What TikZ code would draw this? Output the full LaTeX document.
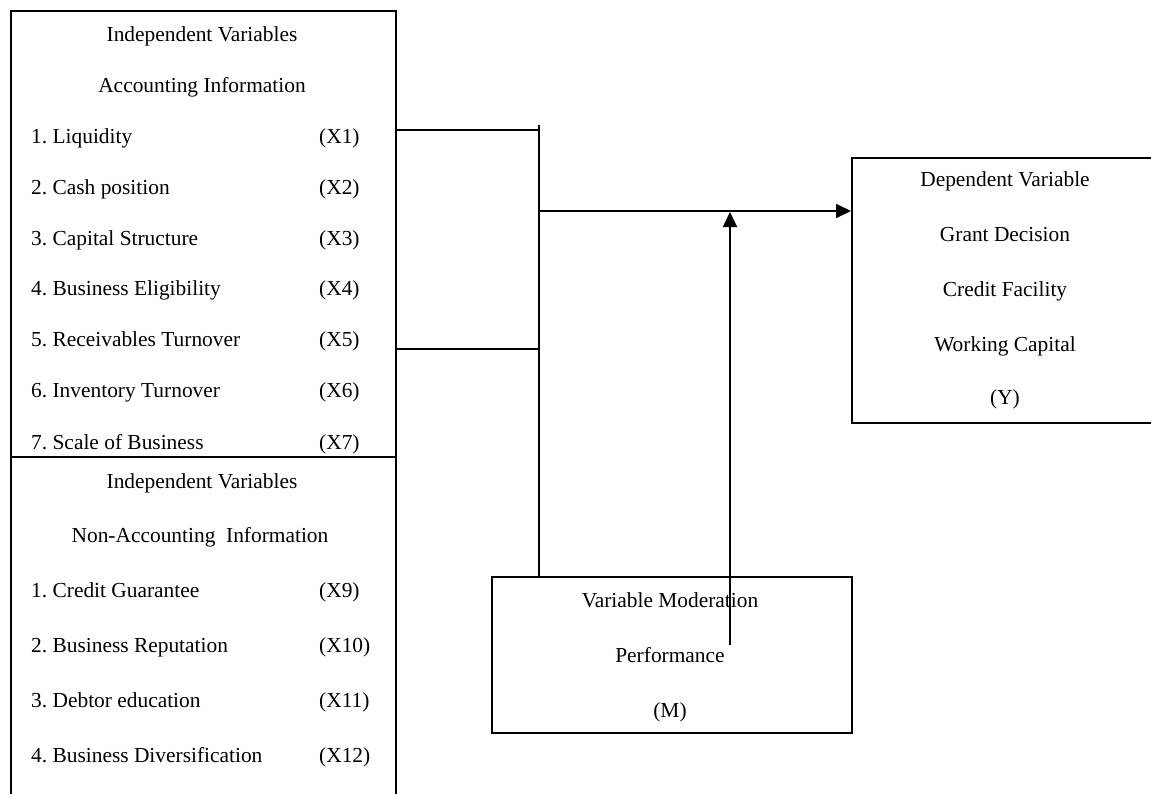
\documentclass[tikz,border=0pt]{standalone}
\usepackage{fontspec}
\setmainfont{Liberation Serif}
\usetikzlibrary{arrows.meta}
\begin{document}
\begin{tikzpicture}[x=1pt,y=-1pt,
  box/.style={draw, line width=1.8pt, rectangle, inner sep=0pt, anchor=north west},
  txt/.style={font=\fontsize{21.4}{25}\selectfont, inner sep=0pt, anchor=base},
  item/.style={font=\fontsize{21.4}{25}\selectfont, inner sep=0pt, anchor=base west},
  conn/.style={line width=1.8pt},
  arr/.style={line width=1.8pt, -{Triangle[length=15pt,width=14pt]}}]
\useasboundingbox (0,0) rectangle (1151,793);
% boxes
\node[box, minimum width=385pt, minimum height=446pt] (acc) at (10,10) {};
\node[box, minimum width=385pt, minimum height=360pt] (nac) at (10,456) {};
\node[box, minimum width=320pt, minimum height=265pt] (dep) at (851,157) {};
\node[box, minimum width=360pt, minimum height=156pt] (mod) at (491,576) {};
% accounting texts
\node[txt] (a0) at (202,41) {Independent Variables};
\node[txt] (a00) at (202,92) {Accounting Information};
\foreach \n/\t/\c/\y in {1/Liquidity/X1/143, 2/Cash position/X2/194, 3/Capital Structure/X3/245, 4/Business Eligibility/X4/295, 5/Receivables Turnover/X5/346.5, 6/Inventory Turnover/X6/397, 7/Scale of Business/X7/449}{
  \node[item] (ai\n) at (31,\y) {\n.\ \t};
  \node[item] (ac\n) at (319,\y) {(\c)};
}
% non-accounting texts
\node[txt] (b0) at (202,488) {Independent Variables};
\node[txt] (b00) at (200,542) {Non-Accounting\ \ Information};
\foreach \n/\t/\c/\y in {1/Credit Guarantee/X9/597, 2/Business Reputation/X10/652, 3/Debtor education/X11/707, 4/Business Diversification/X12/762}{
  \node[item] (bi\n) at (31,\y) {\n.\ \t};
  \node[item] (bc\n) at (319,\y) {(\c)};
}
% dependent texts
\node[txt] (d1) at (1005,186) {Dependent Variable};
\node[txt] (d2) at (1005,241) {Grant Decision};
\node[txt] (d3) at (1005,296) {Credit Facility};
\node[txt] (d4) at (1005,351) {Working Capital};
\node[txt] (d5) at (1005,404) {(Y)};
% moderation texts
\node[txt] (m1) at (670,607) {Variable Moderation};
\node[txt] (m2) at (670,662) {Performance};
\node[txt] (m3) at (670,717) {(M)};
% connectors
\coordinate (jtop) at (539,125);
\coordinate (j1) at (539,130);
\coordinate (j2) at (539,349);
\coordinate (jm) at (539,211);
\coordinate (ms) at (730,645);
\coordinate (mt) at (730,212);
\draw[conn] (acc.east |- j1) -- (j1);
\draw[conn] (acc.east |- j2) -- (j2);
\draw[conn] (jtop) -- (jtop |- mod.north);
\draw[arr] (jm) -- (dep.west |- jm);
\draw[arr] (ms) -- (mt);
\end{tikzpicture}
\end{document}
